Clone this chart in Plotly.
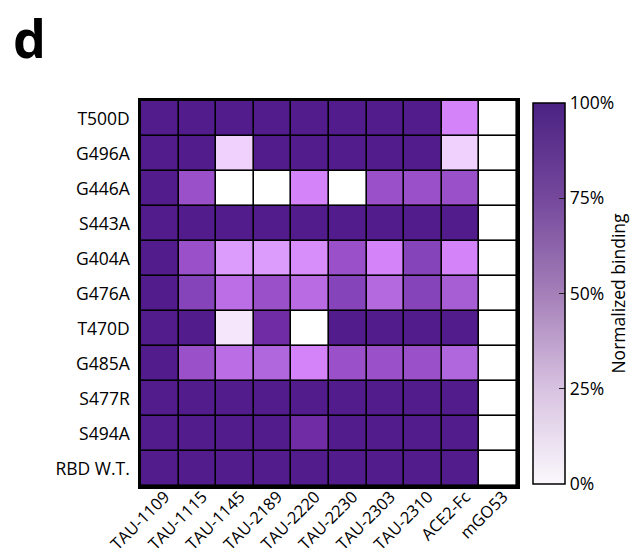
import plotly.graph_objects as go

antibodies = ["TAU-1109", "TAU-1115", "TAU-1145", "TAU-2189", "TAU-2220",
              "TAU-2230", "TAU-2303", "TAU-2310", "ACE2-Fc", "mGO53"]
mutants = ["T500D", "G496A", "G446A", "S443A", "G404A", "G476A",
           "T470D", "G485A", "S477R", "S494A", "RBD W.T."]

# Normalized binding (%) per mutant row, columns in antibody order
T500D = [100, 100, 100, 100, 100, 100, 100, 100, 45, 0]
G496A = [100, 100, 25, 100, 100, 100, 100, 100, 25, 0]
G446A = [100, 72, 0, 0, 45, 0, 72, 72, 72, 0]
S443A = [100, 100, 100, 100, 100, 100, 100, 100, 100, 0]
G404A = [100, 72, 38, 38, 42, 72, 45, 80, 45, 0]
G476A = [100, 80, 56, 72, 58, 80, 60, 80, 66, 0]
T470D = [100, 100, 15, 88, 0, 100, 100, 100, 100, 0]
G485A = [100, 72, 57, 62, 45, 72, 72, 72, 62, 0]
S477R = [100, 100, 100, 100, 100, 100, 100, 100, 100, 0]
S494A = [100, 100, 100, 100, 88, 100, 100, 100, 100, 0]
RBD_WT = [100, 100, 100, 100, 100, 100, 100, 100, 100, 0]

z = [T500D, G496A, G446A, S443A, G404A, G476A, T470D, G485A, S477R, S494A, RBD_WT]

cell_scale = [
    [0.00, "#ffffff"],
    [0.15, "#f6e6fc"],
    [0.25, "#f0d0fc"],
    [0.38, "#dc9cfc"],
    [0.45, "#d484f8"],
    [0.56, "#bc6ee6"],
    [0.62, "#b066dc"],
    [0.72, "#9a50c8"],
    [0.80, "#8644ba"],
    [0.88, "#6f2ca4"],
    [1.00, "#521c8c"],
]
bar_scale = [
    [0.00, "#fbf8fd"],
    [0.25, "#d8c2e1"],
    [0.50, "#a47fb8"],
    [0.75, "#75489c"],
    [1.00, "#4b2283"],
]

FS = 17.5

fig = go.Figure()
fig.add_trace(go.Heatmap(
    z=z, x=antibodies, y=mutants,
    colorscale=cell_scale, zmin=0, zmax=100,
    xgap=1.6, ygap=1.6, showscale=False,
    hovertemplate="%{y} / %{x}: %{z}%<extra></extra>",
))
fig.add_trace(go.Scatter(
    x=[None], y=[None], mode="markers", showlegend=False, hoverinfo="skip",
    marker=dict(
        color=[0], cmin=0, cmax=100, colorscale=bar_scale, showscale=True,
        colorbar=dict(
            x=1.0426, xanchor="left", xpad=0, y=0.5, yanchor="middle", ypad=0,
            len=0.99, lenmode="fraction", thickness=32,
            outlinewidth=1.5, outlinecolor="black",
            tickvals=[0, 25, 50, 75, 100],
            ticktext=["0%", "25%", "50%", "75%", "100%"],
            ticks="inside", ticklen=6, tickcolor="#222", tickwidth=1.2,
            tickfont=dict(size=FS, color="black"),
            title=dict(text="Normalized binding", side="right",
                       font=dict(size=FS, color="black")),
        ),
    ),
))

fig.update_xaxes(
    type="category", tickangle=-45, ticks="", showgrid=False, zeroline=False,
    showline=True, linewidth=2.5, linecolor="black", mirror=True,
    tickfont=dict(size=16.5, color="black"), automargin=False,
    ticklabelshift=5, ticklabelstandoff=-8,
)
fig.update_yaxes(
    type="category", autorange="reversed", ticks="", showgrid=False, zeroline=False,
    showline=True, linewidth=2.5, linecolor="black", mirror=True,
    tickfont=dict(size=FS, color="black"), ticklabelstandoff=5, automargin=False,
)

fig.add_annotation(
    text="<b>d</b>", xref="paper", yref="paper", x=-0.347, y=1.262,
    xanchor="left", yanchor="top", showarrow=False,
    font=dict(size=52, color="black"),
)

fig.update_layout(
    width=643, height=559,
    margin=dict(l=141, r=126, t=101, b=73, autoexpand=False),
    plot_bgcolor="black", paper_bgcolor="white",
    font=dict(family="Open Sans, Noto Sans, sans-serif", color="black"),
)

fig.write_html("out.html")
